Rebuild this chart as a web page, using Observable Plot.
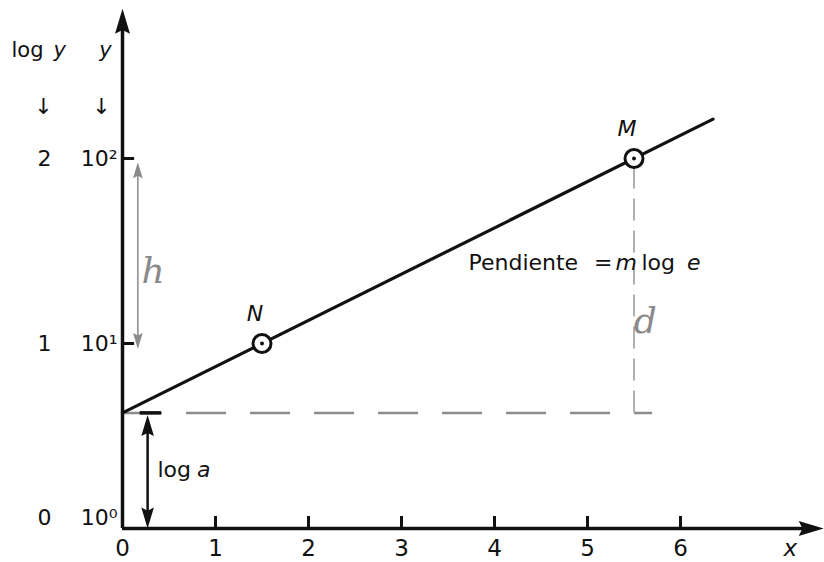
<!DOCTYPE html>
<html><head><meta charset="utf-8">
<script src="https://cdn.jsdelivr.net/npm/d3@7"></script>
<script src="https://cdn.jsdelivr.net/npm/@observablehq/plot@0.6"></script>
<style>body{margin:0;background:#fff} svg{display:block}</style>
</head><body><div id="chart"></div>
<script>
// ---- data ----
const xTicks = [0, 1, 2, 3, 4, 5, 6];
const yTicks = [0, 1, 2];
const logLabels = ["0", "1", "2"];
const powLabels = ["10⁰", "10¹", "10²"];
const lineX = [0, 6.35];
const lineY = [0.625, 2.2125];
const pointNames = ["N", "M"];
const pointX = [1.5, 5.5];
const pointY = [1, 2];
const logA = 0.625;          // intercept (log a)
const dashEndX = 5.7;        // end of horizontal dashed line
const logAArrowX = 0.27;     // x of the "log a" double arrow
const hArrowX = 0.165;       // pencil "h" arrow
const hArrowY = [0.97, 1.98];
const xMax = 7.54, yMax = 2.81;

const pts = pointX.map((x, i) => ({x, y: pointY[i], name: pointNames[i]}));
const linePts = lineX.map((x, i) => ({x, y: lineY[i]}));

// custom arrowhead symbols (tip at the anchor point)
const headUp = {draw(c, size) { const r = Math.sqrt(size / Math.PI); c.moveTo(0, 0); c.lineTo(0.3 * r, r); c.lineTo(0, 0.85 * r); c.lineTo(-0.3 * r, r); c.closePath(); }};
const headDown = {draw(c, size) { const r = Math.sqrt(size / Math.PI); c.moveTo(0, 0); c.lineTo(0.3 * r, -r); c.lineTo(0, -0.85 * r); c.lineTo(-0.3 * r, -r); c.closePath(); }};
const headRight = {draw(c, size) { const r = Math.sqrt(size / Math.PI); c.moveTo(0, 0); c.lineTo(-r, 0.3 * r); c.lineTo(-0.85 * r, 0); c.lineTo(-r, -0.3 * r); c.closePath(); }};

const F = "DejaVu Sans";

const chart = Plot.plot({
  width: 824, height: 562,
  x: {domain: [0, 7.5], range: [122, 819.5], axis: null},
  y: {domain: [0, 2.8], range: [528, 10], axis: null},
  style: {fontFamily: F, background: "white", color: "#111"},
  marks: [
    // dashed guides
    Plot.ruleY([logA], {x1: 0, x2: dashEndX, stroke: "#8c8c8c", strokeWidth: 2.5, strokeDasharray: "40,24"}),
    Plot.ruleX([pointX[1]], {y1: logA, y2: pointY[1], stroke: "#b0b0b0", strokeWidth: 2, strokeDasharray: "22,10"}),
    // axes
    Plot.ruleY([0], {x1: 0, x2: xMax - 0.2, stroke: "#111", strokeWidth: 3.5}),
    Plot.ruleX([0], {y1: 0, y2: yMax - 0.1, stroke: "#111", strokeWidth: 3.5}),
    Plot.dot([{x: xMax, y: 0}], {x: "x", y: "y", symbol: headRight, r: 25, fill: "#111", stroke: null}),
    Plot.dot([{x: 0, y: yMax}], {x: "x", y: "y", symbol: headUp, r: 25, fill: "#111", stroke: null}),
    // ticks
    Plot.ruleX(xTicks.slice(1), {x: d => d, y1: 0, y2: 0.065, stroke: "#111", strokeWidth: 3}),
    Plot.ruleY(yTicks.slice(1), {y: d => d, x1: 0, x2: 0.13, stroke: "#111", strokeWidth: 3}),
    Plot.text(xTicks, {x: d => d, y: -0.108, text: d => String(d), fontSize: 23, fill: "#111"}),
    Plot.text([{x: 7.18, y: -0.108}], {x: "x", y: "y", text: () => "x", fontStyle: "italic", fontSize: 23, fill: "#111"}),
    // left labels
    Plot.text(yTicks, {x: -0.84, y: d => d === 0 ? 0.055 : d, text: (d, i) => logLabels[i], fontSize: 22, fill: "#111"}),
    Plot.text(yTicks, {x: -0.054, y: d => d === 0 ? 0.055 : d, text: (d, i) => powLabels[i], textAnchor: "end", fontSize: 22, fill: "#111"}),
    Plot.text([{x: -1.194, y: 2.584}], {x: "x", y: "y", text: () => "log", textAnchor: "start", fontSize: 21, fill: "#111"}),
    Plot.text([{x: -0.742, y: 2.584}], {x: "x", y: "y", text: () => "y", textAnchor: "start", fontStyle: "italic", fontSize: 21, fill: "#111"}),
    Plot.text([{x: -0.183, y: 2.584}], {x: "x", y: "y", text: () => "y", fontStyle: "italic", fontSize: 21, fill: "#111"}),
    Plot.text([{x: -0.85, y: 2.276}, {x: -0.226, y: 2.276}], {x: "x", y: "y", text: () => "↓", fontSize: 22, fill: "#111"}),
    // main line and points
    Plot.line(linePts, {x: "x", y: "y", stroke: "#111", strokeWidth: 3.2}),
    Plot.dot(pts, {x: "x", y: "y", r: 9, fill: "white", stroke: "#111", strokeWidth: 3}),
    Plot.dot(pts, {x: "x", y: "y", r: 2, fill: "#111", stroke: null}),
    Plot.text(pts, {x: "x", y: "y", text: "name", dx: -7, dy: -30, fontStyle: "italic", fontSize: 22, fill: "#111"}),
    // log a double arrow
    Plot.ruleY([logA], {x1: 0.19, x2: 0.42, stroke: "#111", strokeWidth: 3.5}),
    Plot.ruleX([logAArrowX], {y1: 0.05, y2: logA - 0.05, stroke: "#111", strokeWidth: 2.5}),
    Plot.dot([{x: logAArrowX, y: logA - 0.012}], {x: "x", y: "y", symbol: headUp, r: 21, fill: "#111", stroke: null}),
    Plot.dot([{x: logAArrowX, y: 0}], {x: "x", y: "y", symbol: headDown, r: 21, fill: "#111", stroke: null}),
    Plot.text([{x: 0.376, y: 0.319}], {x: "x", y: "y", text: () => "log", textAnchor: "start", fontSize: 22, fill: "#111"}),
    Plot.text([{x: 0.80, y: 0.319}], {x: "x", y: "y", text: () => "a", textAnchor: "start", fontStyle: "italic", fontSize: 22, fill: "#111"}),
    // pencil annotations h and d
    Plot.ruleX([hArrowX], {y1: hArrowY[0] + 0.05, y2: hArrowY[1] - 0.05, stroke: "#9a9a9a", strokeWidth: 1.8}),
    Plot.dot([{x: hArrowX, y: hArrowY[1]}], {x: "x", y: "y", symbol: headUp, r: 16, fill: "#8a8a8a", stroke: null}),
    Plot.dot([{x: hArrowX, y: hArrowY[0]}], {x: "x", y: "y", symbol: headDown, r: 16, fill: "#8a8a8a", stroke: null}),
    Plot.text([{x: 0.33, y: 1.39}], {x: "x", y: "y", text: () => "h", fontFamily: "DejaVu Serif", fontStyle: "italic", fontSize: 36, fill: "#8a8a8a"}),
    Plot.text([{x: 5.62, y: 1.12}], {x: "x", y: "y", text: () => "d", fontFamily: "DejaVu Serif", fontStyle: "italic", fontSize: 36, fill: "#8a8a8a"}),
    // slope annotation
    Plot.text([{x: 3.72, y: 1.438}], {x: "x", y: "y", text: () => "Pendiente", textAnchor: "start", fontSize: 22, fill: "#111"}),
    Plot.text([{x: 5.17, y: 1.438}], {x: "x", y: "y", text: () => "=", fontSize: 22, fill: "#111"}),
    Plot.text([{x: 5.30, y: 1.438}], {x: "x", y: "y", text: () => "m", textAnchor: "start", fontStyle: "italic", fontSize: 22, fill: "#111"}),
    Plot.text([{x: 5.58, y: 1.438}], {x: "x", y: "y", text: () => "log", textAnchor: "start", fontSize: 22, fill: "#111"}),
    Plot.text([{x: 6.07, y: 1.438}], {x: "x", y: "y", text: () => "e", textAnchor: "start", fontStyle: "italic", fontSize: 22, fill: "#111"})
  ]
});
document.getElementById("chart").append(chart);
</script>
</body></html>
